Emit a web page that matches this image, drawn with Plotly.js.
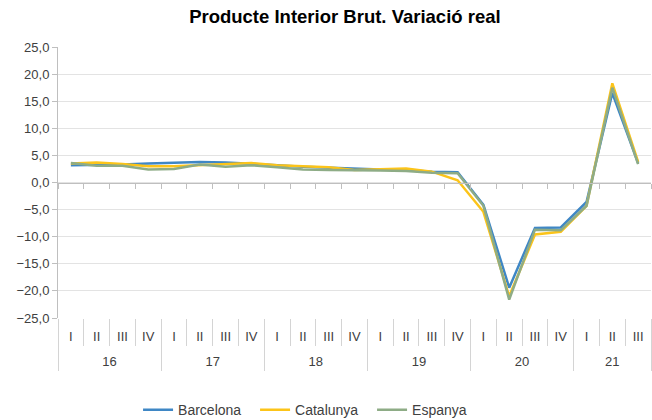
<!DOCTYPE html>
<html>
<head>
<meta charset="utf-8">
<script src="https://cdn.plot.ly/plotly-3.0.1.min.js"></script>
<style>
  html, body { margin: 0; padding: 0; background: #fff; }
  #chart { width: 652px; height: 420px; }
</style>
</head>
<body>
<div id="chart"></div>
<script>
// categories
var years = ["16", "16", "16", "16", "17", "17", "17", "17", "18", "18", "18", "18",
             "19", "19", "19", "19", "20", "20", "20", "20", "21", "21", "21"];
var quarters = ["I", "II", "III", "IV", "I", "II", "III", "IV", "I", "II", "III", "IV",
                "I", "II", "III", "IV", "I", "II", "III", "IV", "I", "II", "III"];

// series values (% variacio real)
var barcelona = [3.2, 3.2, 3.3, 3.5, 3.7, 3.8, 3.7, 3.5, 3.2, 2.9, 2.7, 2.5,
                 2.4, 2.3, 2.0, 1.9, -4.1, -19.4, -8.4, -8.3, -3.6, 16.5, 3.6];
var catalunya = [3.5, 3.7, 3.4, 3.0, 3.0, 3.2, 3.3, 3.6, 3.2, 3.0, 2.8, 2.3,
                 2.4, 2.6, 2.0, 0.4, -5.4, -21.0, -9.6, -9.1, -4.3, 18.3, 3.8];
var espanya = [3.6, 3.1, 3.1, 2.4, 2.5, 3.3, 2.9, 3.2, 2.8, 2.4, 2.3, 2.3,
               2.2, 2.1, 1.8, 1.7, -4.3, -21.6, -8.7, -8.8, -4.3, 17.5, 3.4];

var fontName = "Liberation Sans, Arial, sans-serif";
var tickFont = { family: fontName, size: 13, color: "#404040" };
var n = quarters.length;

// tick positions for the two label rows (quarter centres, year groups)
var quarterCentres = quarters.map(function (q, i) { return i + 0.5; });
var yearNames = [], yearStarts = [];
years.forEach(function (y, i) {
  if (yearNames[yearNames.length - 1] !== y) { yearNames.push(y); yearStarts.push(i); }
});
var yearBounds = yearStarts.concat([n]);
var yearCentres = yearStarts.map(function (s, k) { return (s + yearBounds[k + 1]) / 2; });

function serie(name, vals, color) {
  return {
    x: [years, quarters],
    y: vals,
    type: "scatter",
    mode: "lines",
    name: name,
    line: { color: color, width: 2.5 },
    hoverinfo: "y+name"
  };
}

// invisible traces so the extra axes get drawn
var helper = function (axis) {
  return {
    x: [0, n],
    y: [0, 0],
    xaxis: axis,
    type: "scatter",
    mode: "lines",
    line: { width: 0 },
    opacity: 0,
    showlegend: false,
    hoverinfo: "skip"
  };
};

function extraAxis(opts) {
  var base = {
    overlaying: "x",
    anchor: "free",
    position: 0,
    range: [0, n],
    automargin: false,
    showgrid: false,
    zeroline: false,
    showline: false,
    showticklabels: false,
    ticks: "outside",
    tickfont: tickFont,
    fixedrange: true
  };
  for (var k in opts) base[k] = opts[k];
  return base;
}

var data = [
  serie("Barcelona", barcelona, "#3f87c5"),
  serie("Catalunya", catalunya, "#fcc419"),
  serie("Espanya", espanya, "#8eac86"),
  helper("x2"),
  helper("x3"),
  helper("x4"),
  helper("x5"),
  helper("x6")
];

var layout = {
  width: 652,
  height: 420,
  paper_bgcolor: "#ffffff",
  plot_bgcolor: "#ffffff",
  separators: ",.",
  font: tickFont,
  margin: { l: 58, r: 1, t: 47, b: 102, autoexpand: false },
  title: {
    text: "<b>Producte Interior Brut. Variació real</b>",
    font: { family: fontName, size: 18.5, color: "#000000" },
    x: 0.529,
    xanchor: "center",
    y: 0.96,
    yanchor: "middle"
  },
  showlegend: true,
  legend: {
    orientation: "h",
    x: 0.135,
    xanchor: "left",
    y: -0.34,
    yanchor: "middle",
    entrywidth: 72,
    entrywidthmode: "pixels",
    font: { family: fontName, size: 14, color: "#404040" },
    traceorder: "normal"
  },
  xaxis: {
    type: "multicategory",
    range: [-0.5, n - 0.5],
    automargin: false,
    showgrid: false,
    showline: false,
    zeroline: false,
    ticks: "",
    showticklabels: false,
    showdividers: false,
    fixedrange: true
  },
  // axis line at zero with short ticks
  xaxis2: extraAxis({
    position: 0.5,
    tick0: 0,
    dtick: 1,
    ticklen: 5,
    tickcolor: "#bfbfbf",
    showline: true,
    linecolor: "#bfbfbf",
    linewidth: 1
  }),
  // quarter separators
  xaxis3: extraAxis({
    tick0: 0,
    dtick: 1,
    ticklen: 27,
    tickcolor: "#d4d4d4"
  }),
  // quarter labels
  xaxis4: extraAxis({
    tickmode: "array",
    tickvals: quarterCentres,
    ticktext: quarters,
    ticklen: 6,
    tickcolor: "rgba(0,0,0,0)",
    showticklabels: true
  }),
  // year dividers
  xaxis5: extraAxis({
    tickmode: "array",
    tickvals: yearBounds,
    ticklen: 52,
    tickcolor: "#d4d4d4"
  }),
  // year labels
  xaxis6: extraAxis({
    tickmode: "array",
    tickvals: yearCentres,
    ticktext: yearNames,
    ticklen: 31,
    tickcolor: "rgba(0,0,0,0)",
    showticklabels: true
  }),
  yaxis: {
    range: [-25, 25],
    automargin: false,
    dtick: 5,
    tick0: 0,
    tickformat: ".1f",
    tickfont: tickFont,
    ticks: "outside",
    ticklen: 5,
    tickcolor: "#bfbfbf",
    showline: true,
    linecolor: "#bfbfbf",
    gridcolor: "#e3e3e3",
    zeroline: false,
    fixedrange: true
  }
};

Plotly.newPlot("chart", data, layout, { displayModeBar: false, staticPlot: true });
</script>
</body>
</html>
